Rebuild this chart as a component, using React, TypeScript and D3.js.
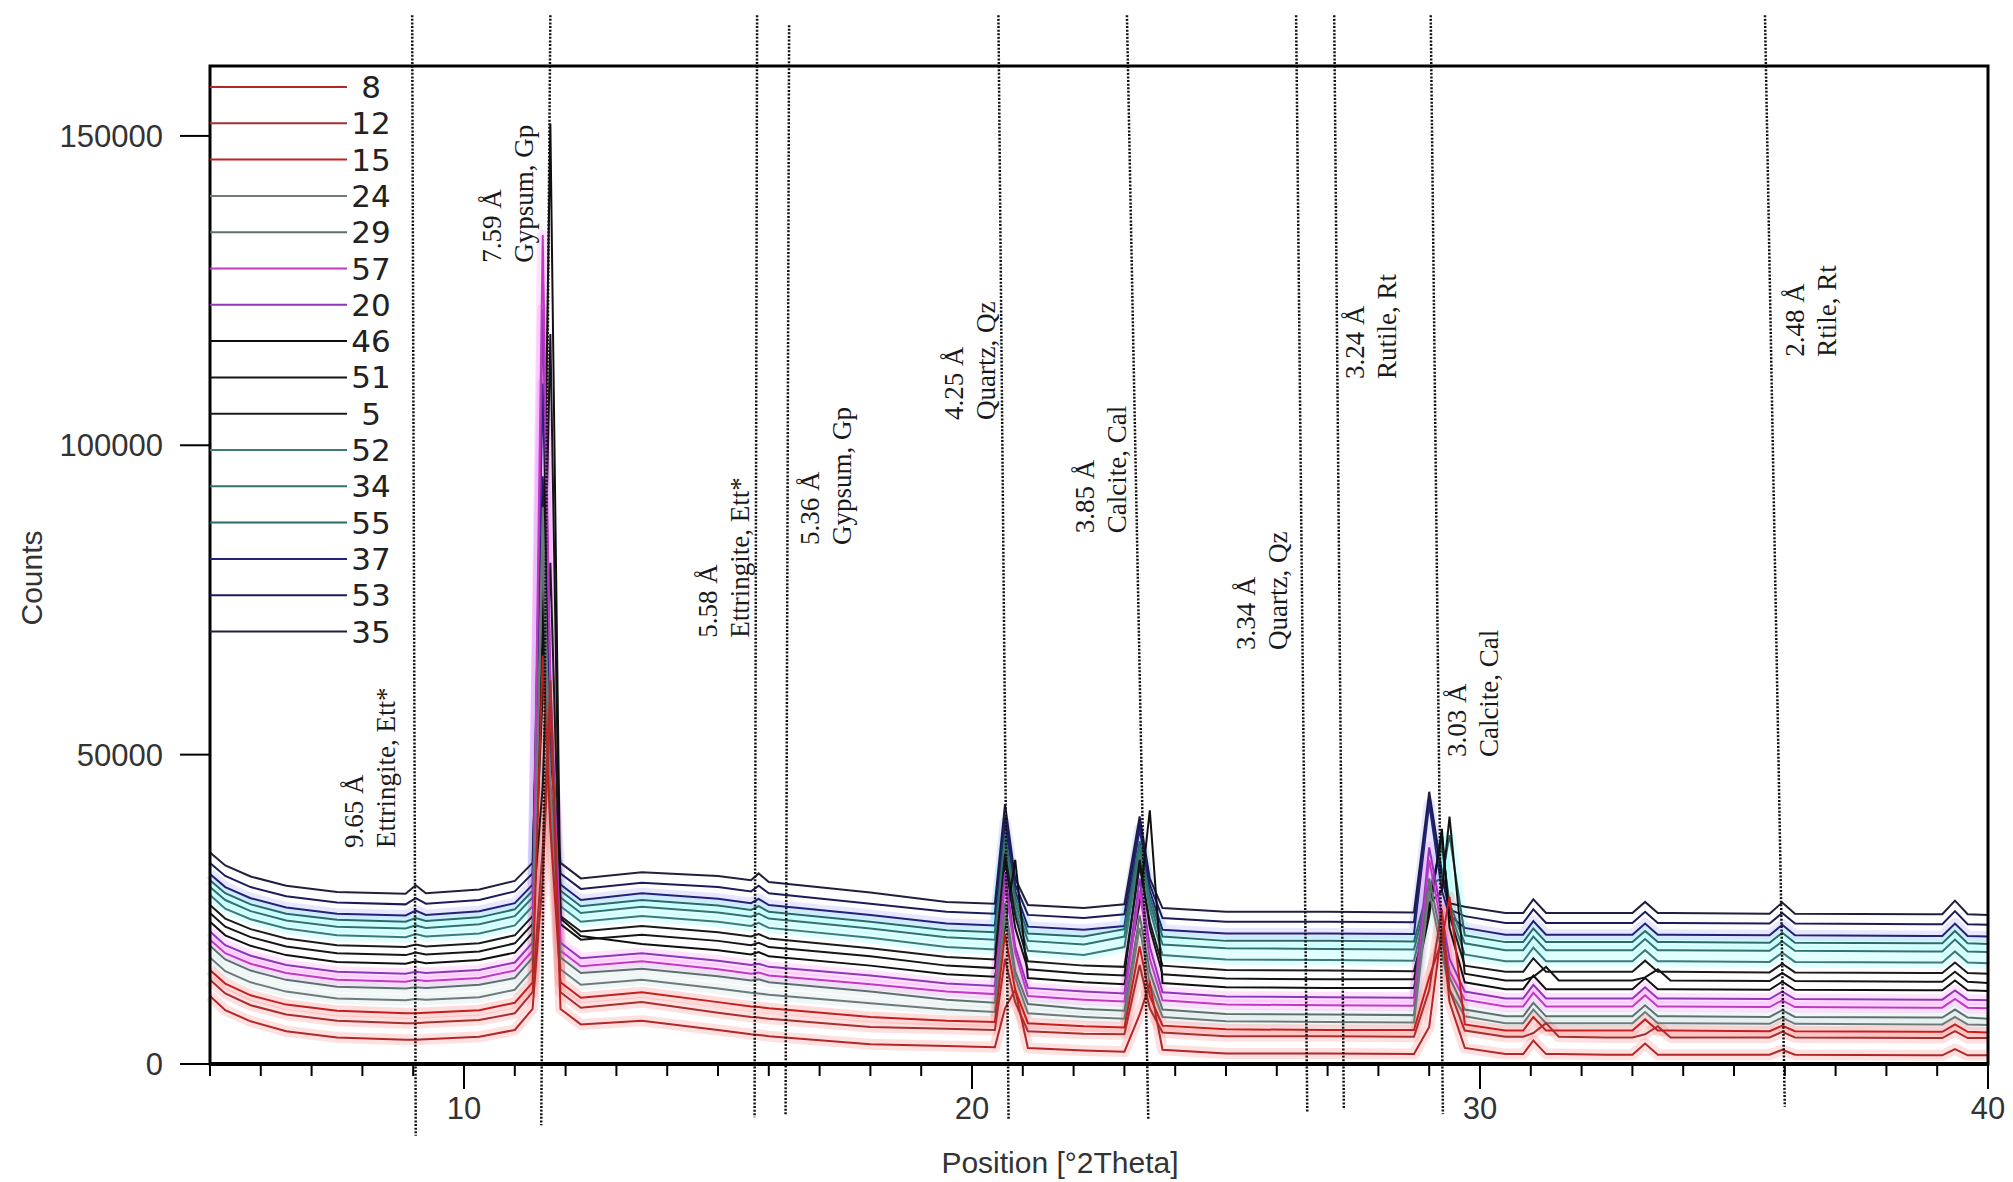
import React from "react";
import * as d3 from "d3";

// ---------- data (counts read in thousands) ----------
const SAMPLES = ["8", "12", "15", "24", "29", "57", "20", "46", "51", "5", "52", "34", "55", "37", "53", "35"];

const TWO_THETA = [5, 5.3, 5.8, 6.5, 7.5, 8.85, 9.05, 9.25, 10.3, 11.0, 11.35, 11.55, 11.7, 11.9, 12.3, 13.5, 15, 15.65, 15.8, 16.0, 18, 19.5, 20.45, 20.65, 20.85, 21.1, 22.2, 23.0, 23.3, 23.5, 23.75, 25, 27, 28.7, 29.0, 29.25, 29.4, 29.7, 30.5, 30.85, 31.05, 31.3, 31.55, 32.5, 33.0, 33.25, 33.5, 33.75, 35.7, 35.95, 36.2, 38.8, 39.1, 39.35, 39.6, 40];

const S8 = [11.0, 8.7, 6.9, 5.3, 4.3, 3.9, 3.9, 4.0, 4.4, 5.5, 8.9, 30, 58, 8.9, 6.4, 7.0, 5.5, 4.8, 4.7, 4.5, 3.2, 2.9, 2.7, 9, 12, 2.6, 2.2, 2.0, 8, 13, 2.3, 1.7, 1.7, 1.6, 6, 22, 10, 2.6, 1.6, 1.6, 3.8, 1.6, 1.6, 1.5, 1.5, 3.3, 1.5, 1.5, 1.5, 2.3, 1.5, 1.4, 1.4, 2.4, 1.4, 1.4];
const S12 = [13.6, 11.4, 9.5, 8.0, 7.0, 6.6, 6.6, 6.7, 7.1, 8.2, 11.6, 35, 62, 11.6, 9.1, 10.0, 8.3, 7.6, 7.5, 7.3, 6.0, 5.7, 5.5, 17, 10, 5.3, 4.9, 4.8, 16, 9, 5.1, 4.5, 4.5, 4.4, 12, 25, 12, 5.4, 4.4, 4.4, 5.0, 6.6, 4.4, 4.3, 4.3, 4.8, 6.1, 4.3, 4.3, 5.2, 4.3, 4.2, 4.2, 5.3, 4.2, 4.2];
const S15 = [15.2, 13.0, 11.1, 9.6, 8.6, 8.2, 8.2, 8.3, 8.7, 9.9, 13.2, 66, 38, 13.2, 10.7, 11.6, 10.0, 9.3, 9.2, 9.0, 7.6, 7.0, 6.8, 21, 12, 6.6, 6.1, 5.9, 19, 11, 6.2, 5.6, 5.5, 5.5, 14, 20, 27, 6.4, 5.4, 5.4, 7.6, 5.4, 5.4, 5.4, 5.4, 7.2, 5.4, 5.4, 5.3, 6.2, 5.3, 5.2, 5.2, 6.4, 5.2, 5.1];
const S24 = [17.2, 15.0, 13.2, 11.7, 10.6, 10.3, 10.5, 10.4, 10.8, 12.0, 15.3, 90, 45, 15.3, 12.8, 13.6, 12.2, 11.5, 11.4, 11.2, 9.8, 8.8, 8.4, 24, 14, 8.2, 7.6, 7.3, 22, 13, 7.6, 6.9, 6.8, 6.7, 28, 18, 12, 7.7, 6.6, 6.6, 8.8, 6.6, 6.6, 6.6, 6.6, 8.4, 6.6, 6.6, 6.5, 7.5, 6.5, 6.4, 6.4, 7.6, 6.4, 6.3];
const S29 = [19.1, 16.9, 15.1, 13.6, 12.5, 12.2, 12.4, 12.3, 12.8, 13.9, 17.2, 84, 40, 17.2, 14.7, 15.4, 14.2, 13.5, 13.7, 13.2, 11.7, 10.4, 9.9, 26, 15, 9.7, 8.9, 8.6, 24, 15, 8.8, 8.1, 8.0, 7.9, 30, 20, 14, 8.8, 7.7, 7.7, 9.9, 7.7, 7.7, 7.7, 7.7, 9.5, 7.7, 7.7, 7.6, 8.7, 7.6, 7.5, 7.5, 8.8, 7.5, 7.3];
const S57 = [20.1, 17.9, 16.2, 14.7, 13.6, 13.3, 13.6, 13.4, 13.9, 15.1, 18.3, 134, 60, 18.3, 15.8, 16.6, 15.3, 14.6, 14.8, 14.3, 12.9, 11.7, 11.3, 29, 18, 11.0, 10.4, 10.1, 28, 17, 10.3, 9.6, 9.5, 9.4, 33, 22, 15, 10.4, 9.3, 9.3, 11.5, 9.3, 9.3, 9.3, 9.3, 11.1, 9.3, 9.3, 9.2, 10.3, 9.2, 9.1, 9.1, 10.5, 9.1, 9.0];
const S20 = [21.4, 19.2, 17.5, 16.0, 14.9, 14.6, 14.9, 14.7, 15.2, 16.4, 19.6, 122, 62, 19.6, 17.1, 17.9, 16.7, 16.0, 16.2, 15.7, 14.3, 13.0, 12.6, 31, 19, 12.3, 11.7, 11.4, 30, 19, 11.6, 10.9, 10.8, 10.7, 35, 24, 17, 11.7, 10.6, 10.6, 12.8, 10.6, 10.6, 10.6, 10.6, 12.4, 10.6, 10.6, 10.5, 11.7, 10.5, 10.4, 10.4, 11.9, 10.4, 10.3];
const S46 = [23.0, 20.8, 19.1, 17.6, 16.5, 16.2, 16.6, 16.3, 16.8, 18.0, 21.2, 70, 152, 23.5, 20.7, 19.4, 18.4, 17.7, 18.1, 17.4, 15.9, 14.5, 14.1, 22, 33, 13.9, 13.2, 12.9, 26, 41, 13.1, 12.4, 12.3, 12.3, 24, 38, 22, 13.2, 12.1, 12.1, 14.3, 12.1, 12.1, 12.1, 12.1, 13.9, 12.1, 12.1, 12.0, 13.3, 12.0, 11.9, 11.9, 13.5, 11.9, 11.8];
const S51 = [24.4, 22.2, 20.5, 19.0, 17.9, 17.6, 18.0, 17.7, 18.2, 19.5, 22.6, 60, 118, 22.6, 20.1, 20.9, 19.9, 19.2, 19.6, 18.9, 17.4, 15.9, 15.5, 33, 22, 15.3, 14.6, 14.3, 33, 22, 14.5, 13.8, 13.7, 13.7, 26, 28, 40, 14.6, 13.5, 13.5, 14.1, 15.7, 13.5, 13.5, 13.5, 14.0, 15.3, 13.5, 13.4, 14.7, 13.4, 13.3, 13.3, 14.9, 13.3, 13.1];
const S5 = [25.7, 23.5, 21.8, 20.3, 19.2, 18.9, 19.3, 19.0, 19.5, 20.8, 23.9, 45, 81, 23.9, 21.4, 22.3, 21.3, 20.6, 21.0, 20.3, 18.7, 17.3, 16.9, 34, 24, 16.6, 15.9, 15.7, 32, 23, 15.9, 15.2, 15.1, 15.0, 25, 37, 24, 15.9, 14.9, 14.9, 17.1, 14.9, 14.9, 14.9, 14.9, 16.7, 14.9, 14.9, 14.8, 16.2, 14.8, 14.7, 14.7, 16.4, 14.7, 14.6];
const S52 = [27.3, 25.1, 23.4, 21.9, 20.8, 20.5, 21.0, 20.6, 21.1, 22.4, 25.5, 75, 42, 25.5, 23.0, 23.9, 23.0, 22.3, 22.8, 22.0, 20.4, 18.9, 18.5, 35, 25, 18.3, 17.6, 18.9, 34, 25, 17.6, 16.9, 16.8, 16.7, 27, 36, 25, 17.7, 16.6, 16.6, 18.8, 16.6, 16.6, 16.6, 16.6, 18.4, 16.6, 16.6, 16.5, 18.0, 16.5, 16.4, 16.4, 18.2, 16.4, 16.3];
const S34 = [28.6, 26.5, 24.7, 23.2, 22.2, 21.9, 22.4, 22.0, 22.6, 23.9, 26.9, 72, 44, 26.9, 24.4, 25.4, 24.5, 23.8, 24.3, 23.5, 21.9, 20.5, 20.1, 36, 26, 19.9, 19.3, 20.6, 35, 26, 19.3, 18.7, 18.6, 18.5, 28, 35, 26, 19.5, 18.4, 18.4, 20.6, 18.4, 18.4, 18.4, 18.4, 20.2, 18.4, 18.4, 18.3, 19.8, 18.3, 18.2, 18.2, 20.1, 18.2, 18.1];
const S55 = [29.7, 27.6, 25.8, 24.3, 23.3, 23.0, 23.6, 23.1, 23.7, 25.0, 28.0, 70, 45, 28.0, 25.5, 26.5, 25.6, 24.9, 25.5, 24.6, 23.0, 21.6, 21.3, 37, 27, 21.1, 20.6, 21.8, 36, 27, 20.6, 19.9, 19.9, 19.8, 29, 30, 37, 20.8, 19.7, 19.7, 21.9, 19.7, 19.7, 19.7, 19.7, 21.5, 19.7, 19.7, 19.6, 21.2, 19.6, 19.5, 19.5, 21.5, 19.5, 19.4];
const S37 = [30.7, 28.6, 26.8, 25.3, 24.3, 24.0, 24.8, 24.1, 24.7, 26.0, 29.0, 110, 55, 29.0, 26.5, 27.6, 26.7, 26.0, 26.7, 25.7, 24.1, 22.7, 22.4, 39, 28, 22.2, 21.7, 22.3, 38, 28, 21.7, 21.1, 21.1, 21.0, 42, 28, 24, 22.0, 20.9, 20.9, 23.1, 20.9, 20.9, 20.9, 20.9, 22.7, 20.9, 20.9, 20.8, 22.5, 20.8, 20.7, 20.7, 22.7, 20.7, 20.6];
const S53 = [32.5, 30.4, 28.6, 27.1, 26.1, 25.8, 26.8, 25.9, 26.5, 27.9, 30.8, 95, 52, 30.8, 28.3, 29.3, 28.6, 27.9, 28.8, 27.6, 25.9, 24.6, 24.3, 40, 29, 24.1, 23.6, 24.2, 39, 29, 23.6, 23.0, 23.0, 22.9, 43, 30, 25, 23.9, 22.8, 22.8, 25.0, 22.8, 22.8, 22.8, 22.8, 24.6, 22.8, 22.8, 22.7, 24.4, 22.7, 22.6, 22.6, 24.7, 22.6, 22.5];
const S35 = [34.2, 32.1, 30.3, 28.8, 27.8, 27.5, 28.9, 27.6, 28.2, 29.6, 32.5, 88, 50, 32.5, 30.0, 31.0, 30.4, 29.7, 30.8, 29.4, 27.7, 26.2, 25.9, 42, 30, 25.7, 25.2, 25.8, 40, 30, 25.2, 24.6, 24.6, 24.5, 44, 31, 26, 25.4, 24.4, 24.4, 26.6, 24.4, 24.4, 24.4, 24.4, 26.2, 24.4, 24.4, 24.3, 26.1, 24.3, 24.2, 24.2, 26.4, 24.2, 24.1];

const SERIES = [S8, S12, S15, S24, S29, S57, S20, S46, S51, S5, S52, S34, S55, S37, S53, S35];
const COUNT_UNIT = 1000;

const Y_TICKS = [0, 50000, 100000, 150000];
const X_MAJOR = [10, 20, 30, 40];
const X_MINOR = d3.range(5, 41, 1);

// reference d-spacing lines: 2θ where they start (top) and end (bottom)
const REF_TOP = [8.98, 11.7, 15.77, 16.4, 20.52, 23.05, 26.38, 27.13, 29.03, 35.61];
const REF_BOTTOM = [9.05, 11.52, 15.72, 16.33, 20.72, 23.47, 26.6, 27.32, 29.27, 36.0];
const REF_TOP_COUNTS = [169500, 169500, 169500, 167900, 169500, 169500, 169500, 169500, 169500, 169500];
const REF_BOTTOM_COUNTS = [-11600, -9900, -8600, -8400, -8900, -8900, -7800, -7400, -8100, -6900];

const ANN_D = ["9.65 Å", "7.59 Å", "5.58 Å", "5.36 Å", "4.25 Å", "3.85 Å", "3.34 Å", "3.24 Å", "3.03 Å", "2.48 Å"];
const ANN_PHASE = ["Ettringite, Ett*", "Gypsum, Gp", "Ettringite, Ett*", "Gypsum, Gp", "Quartz, Qz", "Calcite, Cal", "Quartz, Qz", "Rutile, Rt", "Calcite, Cal", "Rtile, Rt"];
const ANN_X = [7.83, 10.55, 14.8, 16.81, 19.65, 22.22, 25.39, 27.54, 29.55, 36.2];
const ANN_Y = [34900, 129500, 68900, 83900, 104100, 85800, 66900, 110700, 49600, 114300];

// ---------- styles ----------
const COLORS = ["#b02828", "#a53030", "#c41e1e", "#6f7a7a", "#607070", "#c23ac2", "#8c38b8", "#101010", "#151515", "#1b1b1b", "#3e7a7a", "#347171", "#2c6969", "#222278", "#1c1c5a", "#20203e"];
const HALOS = ["#ff7070", "#ff7070", "#ff6060", "#c0dcdc", "#c0dcdc", "#ff70ff", "#ff80ff", "none", "none", "none", "#70ffff", "#70ffff", "#70ffff", "#9090ff", "none", "none"];

const LEFT = 210, RIGHT = 1988, TOP = 66, BOTTOM = 1064;

export default function App() {
  const x = d3.scaleLinear().domain([5, 40]).range([LEFT, RIGHT]);
  const y = d3.scaleLinear().domain([0, 161300]).range([BOTTOM, TOP]);
  const line = d3
    .line<number>()
    .x((_, i) => x(TWO_THETA[i]))
    .y((v) => y(v * COUNT_UNIT));

  const order = d3.range(SERIES.length).reverse();
  const legendY0 = 87;
  const legendStep = 36.3;

  return (
    <svg
      width={2013}
      height={1182}
      style={{ position: "absolute", left: 0, top: 0, background: "#fff" }}
    >
      <rect x={0} y={0} width={2013} height={1182} fill="#fff" />

      {/* halos */}
      <g>
        {order.map((i) =>
          HALOS[i] === "none" ? null : (
            <path
              key={"h" + i}
              d={line(SERIES[i]) || ""}
              fill="none"
              stroke={HALOS[i]}
              strokeOpacity={0.22}
              strokeWidth={11}
              strokeLinejoin="round"
            />
          )
        )}
      </g>

      {/* traces */}
      <g>
        {order.map((i) => (
          <path
            key={"t" + i}
            d={line(SERIES[i]) || ""}
            fill="none"
            stroke={COLORS[i]}
            strokeWidth={2}
            strokeLinejoin="miter"
          />
        ))}
      </g>

      {/* reference lines */}
      <g>
        {REF_TOP.map((t, i) => (
          <line
            key={"r" + i}
            x1={x(t)}
            y1={y(REF_TOP_COUNTS[i])}
            x2={x(REF_BOTTOM[i])}
            y2={y(REF_BOTTOM_COUNTS[i])}
            stroke="#111"
            strokeWidth={2.5}
            strokeDasharray="2 1.6"
          />
        ))}
      </g>

      {/* frame */}
      <rect x={LEFT} y={TOP} width={RIGHT - LEFT} height={BOTTOM - TOP} fill="none" stroke="#000" strokeWidth={3} />
      <line x1={LEFT - 1} x2={RIGHT + 1} y1={BOTTOM} y2={BOTTOM} stroke="#000" strokeWidth={4} />

      {/* legend */}
      <g>
        {SAMPLES.map((s, i) => (
          <g key={"l" + i}>
            <line
              x1={LEFT}
              x2={347}
              y1={legendY0 + i * legendStep}
              y2={legendY0 + i * legendStep}
              stroke={COLORS[i]}
              strokeWidth={2}
            />
            <text
              x={371}
              y={legendY0 + i * legendStep + 11}
              textAnchor="middle"
              fontFamily="DejaVu Sans, Verdana, sans-serif"
              fontSize={31}
              fill="#222"
            >
              {s}
            </text>
          </g>
        ))}
      </g>

      {/* y axis */}
      <g>
        {Y_TICKS.map((t) => (
          <g key={"y" + t}>
            <line x1={LEFT - 30} x2={LEFT} y1={y(t)} y2={y(t)} stroke="#000" strokeWidth={2} />
            <text
              x={163}
              y={y(t) + 11}
              textAnchor="end"
              fontFamily="Liberation Sans, Arial, sans-serif"
              fontSize={31}
              fill="#333"
            >
              {t}
            </text>
          </g>
        ))}
        <text
          transform={`translate(42, ${(TOP + BOTTOM) / 2 + 13}) rotate(-90)`}
          textAnchor="middle"
          fontFamily="Liberation Sans, Arial, sans-serif"
          fontSize={30}
          fill="#333"
        >
          Counts
        </text>
      </g>

      {/* x axis */}
      <g>
        {X_MINOR.map((t) => (
          <line
            key={"xm" + t}
            x1={x(t)}
            x2={x(t)}
            y1={BOTTOM}
            y2={BOTTOM + (X_MAJOR.includes(t) ? 25 : 12)}
            stroke="#000"
            strokeWidth={2}
          />
        ))}
        {X_MAJOR.map((t) => (
          <text
            key={"xl" + t}
            x={x(t)}
            y={1119}
            textAnchor="middle"
            fontFamily="Liberation Sans, Arial, sans-serif"
            fontSize={31}
            fill="#333"
          >
            {t}
          </text>
        ))}
        <text
          x={1060}
          y={1173}
          textAnchor="middle"
          fontFamily="Liberation Sans, Arial, sans-serif"
          fontSize={30}
          fill="#333"
        >
          Position [°2Theta]
        </text>
      </g>

      {/* annotations */}
      <g fontFamily="Liberation Serif, Times New Roman, serif" fontSize={27} fill="#1a1a1a">
        {ANN_D.map((dText, i) => {
          const bx = x(ANN_X[i]) + 9;
          const by = y(ANN_Y[i]);
          return (
            <g key={"a" + i}>
              <text transform={`translate(${bx}, ${by}) rotate(-90)`}>{dText}</text>
              <text transform={`translate(${bx + 32}, ${by}) rotate(-90)`}>{ANN_PHASE[i]}</text>
            </g>
          );
        })}
      </g>
    </svg>
  );
}
